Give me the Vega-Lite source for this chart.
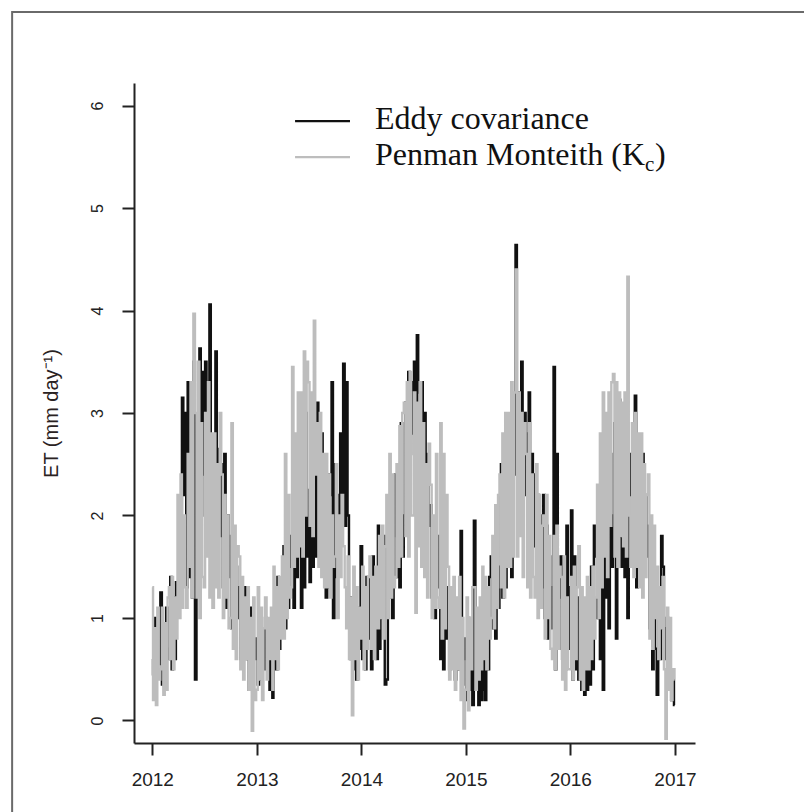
{
  "$schema": "https://vega.github.io/schema/vega-lite/v6.json",
  "width": 561,
  "height": 660,
  "autosize": {"type": "none"},
  "padding": {"left": 134, "top": 83, "right": 109, "bottom": 69},
  "background": "white",
  "config": {
    "view": {"stroke": null},
    "axis": {
      "grid": false,
      "domainColor": "#222222",
      "domainWidth": 2,
      "tickColor": "#222222",
      "tickWidth": 2,
      "tickSize": 12,
      "labelColor": "#222222",
      "labelFont": "Liberation Sans",
      "titleFont": "Liberation Sans",
      "titleColor": "#2a2222",
      "titleFontWeight": "normal"
    }
  },
  "datasets": {
    "et": [
      {"date":"2012-01-01","ec":0.6,"pm":1.3},{"date":"2012-01-06","ec":0.45,"pm":0.2},{"date":"2012-01-11","ec":1.0,"pm":0.9},{"date":"2012-01-16","ec":0.5,"pm":0.15},{"date":"2012-01-21","ec":0.9,"pm":1.1},{"date":"2012-01-26","ec":0.55,"pm":0.4},
      {"date":"2012-02-01","ec":1.25,"pm":0.5},{"date":"2012-02-06","ec":0.35,"pm":1.1},{"date":"2012-02-11","ec":0.8,"pm":0.25},{"date":"2012-02-16","ec":0.3,"pm":0.95},{"date":"2012-02-21","ec":1.1,"pm":0.3},{"date":"2012-02-26","ec":0.6,"pm":1.2},
      {"date":"2012-03-01","ec":0.7,"pm":1.3},{"date":"2012-03-06","ec":1.4,"pm":0.6},{"date":"2012-03-11","ec":0.5,"pm":1.4},{"date":"2012-03-16","ec":1.2,"pm":0.5},{"date":"2012-03-21","ec":0.6,"pm":1.2},{"date":"2012-03-26","ec":1.35,"pm":0.8},
      {"date":"2012-04-01","ec":1.1,"pm":2.2},{"date":"2012-04-06","ec":1.6,"pm":1.0},{"date":"2012-04-11","ec":2.0,"pm":2.4},{"date":"2012-04-16","ec":3.15,"pm":1.1},{"date":"2012-04-21","ec":2.2,"pm":2.0},{"date":"2012-04-26","ec":3.0,"pm":1.3},
      {"date":"2012-05-01","ec":1.3,"pm":1.1},{"date":"2012-05-06","ec":3.3,"pm":2.6},{"date":"2012-05-11","ec":1.4,"pm":1.5},{"date":"2012-05-16","ec":2.9,"pm":3.3},{"date":"2012-05-21","ec":1.2,"pm":1.2},{"date":"2012-05-26","ec":3.5,"pm":3.97},
      {"date":"2012-06-01","ec":0.4,"pm":3.0},{"date":"2012-06-06","ec":2.0,"pm":1.2},{"date":"2012-06-11","ec":1.6,"pm":3.5},{"date":"2012-06-16","ec":3.63,"pm":1.0},{"date":"2012-06-21","ec":2.0,"pm":2.9},{"date":"2012-06-26","ec":3.4,"pm":1.4},
      {"date":"2012-07-01","ec":2.4,"pm":1.3},{"date":"2012-07-06","ec":3.5,"pm":3.0},{"date":"2012-07-11","ec":1.8,"pm":1.6},{"date":"2012-07-16","ec":3.2,"pm":3.3},{"date":"2012-07-21","ec":4.06,"pm":1.2},{"date":"2012-07-26","ec":2.2,"pm":2.8},
      {"date":"2012-08-01","ec":2.7,"pm":1.1},{"date":"2012-08-06","ec":1.9,"pm":2.8},{"date":"2012-08-11","ec":3.6,"pm":1.3},{"date":"2012-08-16","ec":2.0,"pm":2.5},{"date":"2012-08-21","ec":2.65,"pm":1.2},{"date":"2012-08-26","ec":1.8,"pm":3.0},
      {"date":"2012-09-01","ec":2.5,"pm":2.4},{"date":"2012-09-06","ec":1.3,"pm":1.0},{"date":"2012-09-11","ec":2.6,"pm":2.2},{"date":"2012-09-16","ec":1.1,"pm":1.2},{"date":"2012-09-21","ec":2.0,"pm":2.0},{"date":"2012-09-26","ec":1.4,"pm":0.9},
      {"date":"2012-10-01","ec":1.8,"pm":1.0},{"date":"2012-10-06","ec":0.9,"pm":2.9},{"date":"2012-10-11","ec":1.6,"pm":0.7},{"date":"2012-10-16","ec":0.7,"pm":1.9},{"date":"2012-10-21","ec":1.5,"pm":0.6},{"date":"2012-10-26","ec":1.0,"pm":1.7},
      {"date":"2012-11-01","ec":1.3,"pm":1.6},{"date":"2012-11-06","ec":0.6,"pm":0.5},{"date":"2012-11-11","ec":1.2,"pm":1.4},{"date":"2012-11-16","ec":0.8,"pm":0.4},{"date":"2012-11-21","ec":1.3,"pm":1.2},{"date":"2012-11-26","ec":0.6,"pm":0.6},
      {"date":"2012-12-01","ec":0.9,"pm":1.3},{"date":"2012-12-06","ec":0.3,"pm":0.3},{"date":"2012-12-11","ec":1.1,"pm":1.0},{"date":"2012-12-16","ec":0.5,"pm":-0.1},{"date":"2012-12-21","ec":0.8,"pm":1.2},{"date":"2012-12-26","ec":0.6,"pm":0.2},
      {"date":"2013-01-01","ec":0.8,"pm":0.3},{"date":"2013-01-06","ec":0.35,"pm":1.3},{"date":"2013-01-11","ec":1.0,"pm":0.4},{"date":"2013-01-16","ec":0.4,"pm":1.1},{"date":"2013-01-21","ec":0.9,"pm":0.2},{"date":"2013-01-26","ec":0.5,"pm":0.9},
      {"date":"2013-02-01","ec":1.0,"pm":1.2},{"date":"2013-02-06","ec":0.5,"pm":0.4},{"date":"2013-02-11","ec":0.8,"pm":1.0},{"date":"2013-02-16","ec":0.3,"pm":0.6},{"date":"2013-02-21","ec":0.9,"pm":1.1},{"date":"2013-02-26","ec":0.22,"pm":0.3},
      {"date":"2013-03-01","ec":0.6,"pm":1.5},{"date":"2013-03-06","ec":1.2,"pm":0.6},{"date":"2013-03-11","ec":0.5,"pm":1.3},{"date":"2013-03-16","ec":1.4,"pm":0.5},{"date":"2013-03-21","ec":0.7,"pm":1.4},{"date":"2013-03-26","ec":1.2,"pm":0.8},
      {"date":"2013-04-01","ec":1.0,"pm":1.6},{"date":"2013-04-06","ec":1.7,"pm":0.8},{"date":"2013-04-11","ec":0.9,"pm":2.6},{"date":"2013-04-16","ec":1.5,"pm":1.0},{"date":"2013-04-21","ec":1.1,"pm":2.2},{"date":"2013-04-26","ec":1.8,"pm":1.2},
      {"date":"2013-05-01","ec":1.5,"pm":1.3},{"date":"2013-05-06","ec":2.2,"pm":3.45},{"date":"2013-05-11","ec":1.1,"pm":1.5},{"date":"2013-05-16","ec":2.0,"pm":2.8},{"date":"2013-05-21","ec":1.4,"pm":1.6},{"date":"2013-05-26","ec":1.9,"pm":3.2},
      {"date":"2013-06-01","ec":2.1,"pm":1.7},{"date":"2013-06-06","ec":1.1,"pm":3.2},{"date":"2013-06-11","ec":2.5,"pm":1.6},{"date":"2013-06-16","ec":1.3,"pm":3.6},{"date":"2013-06-21","ec":3.0,"pm":2.0},{"date":"2013-06-26","ec":1.6,"pm":3.5},
      {"date":"2013-07-01","ec":2.25,"pm":3.3},{"date":"2013-07-06","ec":1.35,"pm":1.9},{"date":"2013-07-11","ec":2.0,"pm":3.2},{"date":"2013-07-16","ec":1.5,"pm":1.8},{"date":"2013-07-21","ec":2.5,"pm":3.9},{"date":"2013-07-26","ec":1.6,"pm":2.4},
      {"date":"2013-08-01","ec":3.1,"pm":2.9},{"date":"2013-08-06","ec":2.5,"pm":1.5},{"date":"2013-08-11","ec":1.6,"pm":3.0},{"date":"2013-08-16","ec":2.8,"pm":1.4},{"date":"2013-08-21","ec":2.1,"pm":2.6},{"date":"2013-08-26","ec":2.4,"pm":1.3},
      {"date":"2013-09-01","ec":1.2,"pm":2.6},{"date":"2013-09-06","ec":2.4,"pm":1.3},{"date":"2013-09-11","ec":1.3,"pm":2.4},{"date":"2013-09-16","ec":2.2,"pm":1.2},{"date":"2013-09-21","ec":3.3,"pm":2.0},{"date":"2013-09-26","ec":1.0,"pm":1.5},
      {"date":"2013-10-01","ec":2.5,"pm":1.6},{"date":"2013-10-06","ec":1.4,"pm":2.5},{"date":"2013-10-11","ec":2.2,"pm":1.0},{"date":"2013-10-16","ec":1.9,"pm":2.0},{"date":"2013-10-21","ec":2.8,"pm":1.4},{"date":"2013-10-26","ec":2.0,"pm":2.2},
      {"date":"2013-11-01","ec":3.48,"pm":1.7},{"date":"2013-11-06","ec":1.9,"pm":1.3},{"date":"2013-11-11","ec":3.3,"pm":0.9},{"date":"2013-11-16","ec":2.0,"pm":1.6},{"date":"2013-11-21","ec":1.2,"pm":0.6},{"date":"2013-11-26","ec":0.6,"pm":1.2},
      {"date":"2013-12-01","ec":1.2,"pm":0.05},{"date":"2013-12-06","ec":0.5,"pm":1.5},{"date":"2013-12-11","ec":1.0,"pm":0.6},{"date":"2013-12-16","ec":0.4,"pm":1.3},{"date":"2013-12-21","ec":1.1,"pm":0.4},{"date":"2013-12-26","ec":0.7,"pm":1.1},
      {"date":"2014-01-01","ec":1.7,"pm":0.8},{"date":"2014-01-06","ec":0.6,"pm":1.5},{"date":"2014-01-11","ec":1.2,"pm":0.5},{"date":"2014-01-16","ec":0.5,"pm":1.3},{"date":"2014-01-21","ec":1.4,"pm":0.7},{"date":"2014-01-26","ec":0.8,"pm":1.4},
      {"date":"2014-02-01","ec":1.4,"pm":1.6},{"date":"2014-02-06","ec":0.5,"pm":0.7},{"date":"2014-02-11","ec":1.6,"pm":1.4},{"date":"2014-02-16","ec":0.7,"pm":0.6},{"date":"2014-02-21","ec":1.2,"pm":1.5},{"date":"2014-02-26","ec":0.6,"pm":0.9},
      {"date":"2014-03-01","ec":1.9,"pm":0.9},{"date":"2014-03-06","ec":0.7,"pm":1.8},{"date":"2014-03-11","ec":1.5,"pm":1.0},{"date":"2014-03-16","ec":1.0,"pm":1.9},{"date":"2014-03-21","ec":1.8,"pm":0.8},{"date":"2014-03-26","ec":0.35,"pm":1.7},
      {"date":"2014-04-01","ec":0.4,"pm":2.2},{"date":"2014-04-06","ec":1.9,"pm":1.0},{"date":"2014-04-11","ec":1.2,"pm":2.6},{"date":"2014-04-16","ec":2.2,"pm":1.2},{"date":"2014-04-21","ec":1.0,"pm":2.4},{"date":"2014-04-26","ec":1.8,"pm":1.3},
      {"date":"2014-05-01","ec":2.4,"pm":1.4},{"date":"2014-05-06","ec":1.4,"pm":2.5},{"date":"2014-05-11","ec":2.2,"pm":1.5},{"date":"2014-05-16","ec":1.3,"pm":2.87},{"date":"2014-05-21","ec":2.9,"pm":1.6},{"date":"2014-05-26","ec":1.6,"pm":3.0},
      {"date":"2014-06-01","ec":2.0,"pm":3.1},{"date":"2014-06-06","ec":3.1,"pm":1.8},{"date":"2014-06-11","ec":2.2,"pm":3.3},{"date":"2014-06-16","ec":3.4,"pm":1.6},{"date":"2014-06-21","ec":2.6,"pm":3.4},{"date":"2014-06-26","ec":3.3,"pm":2.0},
      {"date":"2014-07-01","ec":2.8,"pm":2.0},{"date":"2014-07-06","ec":3.5,"pm":3.2},{"date":"2014-07-11","ec":2.9,"pm":1.05},{"date":"2014-07-16","ec":3.76,"pm":3.1},{"date":"2014-07-21","ec":3.2,"pm":1.7},{"date":"2014-07-26","ec":2.6,"pm":3.3},
      {"date":"2014-08-01","ec":3.3,"pm":1.5},{"date":"2014-08-06","ec":2.2,"pm":2.9},{"date":"2014-08-11","ec":3.0,"pm":1.4},{"date":"2014-08-16","ec":1.8,"pm":2.5},{"date":"2014-08-21","ec":2.6,"pm":1.2},{"date":"2014-08-26","ec":1.9,"pm":2.7},
      {"date":"2014-09-01","ec":2.1,"pm":2.3},{"date":"2014-09-06","ec":1.2,"pm":1.0},{"date":"2014-09-11","ec":1.9,"pm":2.0},{"date":"2014-09-16","ec":1.0,"pm":1.1},{"date":"2014-09-21","ec":1.6,"pm":2.6},{"date":"2014-09-26","ec":1.3,"pm":1.2},
      {"date":"2014-10-01","ec":1.8,"pm":1.1},{"date":"2014-10-06","ec":0.6,"pm":2.9},{"date":"2014-10-11","ec":1.4,"pm":0.8},{"date":"2014-10-16","ec":0.5,"pm":2.6},{"date":"2014-10-21","ec":1.2,"pm":0.9},{"date":"2014-10-26","ec":0.8,"pm":2.2},
      {"date":"2014-11-01","ec":1.3,"pm":1.5},{"date":"2014-11-06","ec":0.5,"pm":0.4},{"date":"2014-11-11","ec":1.1,"pm":1.3},{"date":"2014-11-16","ec":0.6,"pm":0.5},{"date":"2014-11-21","ec":1.0,"pm":1.4},{"date":"2014-11-26","ec":0.4,"pm":0.3},
      {"date":"2014-12-01","ec":0.9,"pm":1.2},{"date":"2014-12-06","ec":0.5,"pm":0.5},{"date":"2014-12-11","ec":1.2,"pm":1.4},{"date":"2014-12-16","ec":1.85,"pm":0.2},{"date":"2014-12-21","ec":0.35,"pm":1.0},{"date":"2014-12-26","ec":0.8,"pm":-0.08},
      {"date":"2015-01-01","ec":0.6,"pm":0.3},{"date":"2015-01-06","ec":0.2,"pm":1.2},{"date":"2015-01-11","ec":1.0,"pm":0.1},{"date":"2015-01-16","ec":0.3,"pm":1.0},{"date":"2015-01-21","ec":0.9,"pm":0.5},{"date":"2015-01-26","ec":0.15,"pm":1.3},
      {"date":"2015-02-01","ec":1.95,"pm":1.3},{"date":"2015-02-06","ec":0.4,"pm":0.3},{"date":"2015-02-11","ec":1.0,"pm":1.1},{"date":"2015-02-16","ec":0.15,"pm":0.4},{"date":"2015-02-21","ec":0.6,"pm":1.2},{"date":"2015-02-26","ec":0.2,"pm":0.5},
      {"date":"2015-03-01","ec":0.3,"pm":1.5},{"date":"2015-03-06","ec":1.2,"pm":0.6},{"date":"2015-03-11","ec":0.2,"pm":1.4},{"date":"2015-03-16","ec":1.0,"pm":0.5},{"date":"2015-03-21","ec":0.5,"pm":1.3},{"date":"2015-03-26","ec":1.4,"pm":0.8},
      {"date":"2015-04-01","ec":1.6,"pm":1.0},{"date":"2015-04-06","ec":0.9,"pm":1.8},{"date":"2015-04-11","ec":1.5,"pm":0.9},{"date":"2015-04-16","ec":0.8,"pm":2.1},{"date":"2015-04-21","ec":1.2,"pm":1.1},{"date":"2015-04-26","ec":1.1,"pm":2.2},
      {"date":"2015-05-01","ec":1.5,"pm":2.4},{"date":"2015-05-06","ec":2.5,"pm":1.3},{"date":"2015-05-11","ec":1.2,"pm":2.8},{"date":"2015-05-16","ec":2.0,"pm":1.2},{"date":"2015-05-21","ec":1.3,"pm":3.0},{"date":"2015-05-26","ec":2.6,"pm":1.5},
      {"date":"2015-06-01","ec":1.8,"pm":3.0},{"date":"2015-06-06","ec":2.9,"pm":1.5},{"date":"2015-06-11","ec":1.4,"pm":3.3},{"date":"2015-06-16","ec":3.1,"pm":1.6},{"date":"2015-06-21","ec":2.4,"pm":3.2},{"date":"2015-06-26","ec":4.64,"pm":4.4},
      {"date":"2015-07-01","ec":2.6,"pm":1.6},{"date":"2015-07-06","ec":3.2,"pm":3.2},{"date":"2015-07-11","ec":2.0,"pm":1.8},{"date":"2015-07-16","ec":3.5,"pm":3.0},{"date":"2015-07-21","ec":2.4,"pm":1.4},{"date":"2015-07-26","ec":3.0,"pm":2.9},
      {"date":"2015-08-01","ec":2.2,"pm":2.6},{"date":"2015-08-06","ec":2.8,"pm":1.3},{"date":"2015-08-11","ec":3.2,"pm":2.9},{"date":"2015-08-16","ec":1.9,"pm":1.2},{"date":"2015-08-21","ec":2.6,"pm":2.4},{"date":"2015-08-26","ec":1.7,"pm":1.4},
      {"date":"2015-09-01","ec":2.4,"pm":1.2},{"date":"2015-09-06","ec":1.4,"pm":2.5},{"date":"2015-09-11","ec":2.2,"pm":1.0},{"date":"2015-09-16","ec":1.5,"pm":2.2},{"date":"2015-09-21","ec":2.0,"pm":1.1},{"date":"2015-09-26","ec":1.3,"pm":1.9},
      {"date":"2015-10-01","ec":2.2,"pm":2.0},{"date":"2015-10-06","ec":1.0,"pm":0.8},{"date":"2015-10-11","ec":1.9,"pm":2.2},{"date":"2015-10-16","ec":0.8,"pm":1.0},{"date":"2015-10-21","ec":1.6,"pm":1.8},{"date":"2015-10-26","ec":0.9,"pm":0.7},
      {"date":"2015-11-01","ec":1.3,"pm":0.6},{"date":"2015-11-06","ec":3.45,"pm":1.8},{"date":"2015-11-11","ec":0.5,"pm":0.5},{"date":"2015-11-16","ec":2.6,"pm":1.9},{"date":"2015-11-21","ec":0.7,"pm":0.7},{"date":"2015-11-26","ec":1.2,"pm":1.5},
      {"date":"2015-12-01","ec":1.6,"pm":1.4},{"date":"2015-12-06","ec":0.6,"pm":0.4},{"date":"2015-12-11","ec":1.2,"pm":1.6},{"date":"2015-12-16","ec":0.5,"pm":0.3},{"date":"2015-12-21","ec":1.9,"pm":1.2},{"date":"2015-12-26","ec":0.7,"pm":0.5},
      {"date":"2016-01-01","ec":1.3,"pm":0.5},{"date":"2016-01-06","ec":2.05,"pm":1.4},{"date":"2016-01-11","ec":0.4,"pm":0.4},{"date":"2016-01-16","ec":1.6,"pm":1.5},{"date":"2016-01-21","ec":0.5,"pm":0.6},{"date":"2016-01-26","ec":1.2,"pm":1.3},
      {"date":"2016-02-01","ec":0.4,"pm":1.7},{"date":"2016-02-06","ec":1.1,"pm":0.4},{"date":"2016-02-11","ec":0.3,"pm":1.3},{"date":"2016-02-16","ec":0.9,"pm":0.3},{"date":"2016-02-21","ec":0.25,"pm":1.2},{"date":"2016-02-26","ec":1.0,"pm":0.5},
      {"date":"2016-03-01","ec":0.3,"pm":1.4},{"date":"2016-03-06","ec":1.2,"pm":0.5},{"date":"2016-03-11","ec":0.35,"pm":1.3},{"date":"2016-03-16","ec":1.5,"pm":0.6},{"date":"2016-03-21","ec":0.5,"pm":1.5},{"date":"2016-03-26","ec":1.9,"pm":0.8},
      {"date":"2016-04-01","ec":1.6,"pm":1.2},{"date":"2016-04-06","ec":1.0,"pm":2.3},{"date":"2016-04-11","ec":2.0,"pm":1.0},{"date":"2016-04-16","ec":0.6,"pm":2.8},{"date":"2016-04-21","ec":1.8,"pm":1.3},{"date":"2016-04-26","ec":0.3,"pm":3.2},
      {"date":"2016-05-01","ec":2.4,"pm":1.6},{"date":"2016-05-06","ec":1.2,"pm":3.0},{"date":"2016-05-11","ec":2.1,"pm":1.4},{"date":"2016-05-16","ec":0.9,"pm":3.2},{"date":"2016-05-21","ec":2.6,"pm":1.9},{"date":"2016-05-26","ec":1.5,"pm":3.3},
      {"date":"2016-06-01","ec":2.0,"pm":3.38},{"date":"2016-06-06","ec":2.9,"pm":1.6},{"date":"2016-06-11","ec":0.8,"pm":3.3},{"date":"2016-06-16","ec":2.5,"pm":1.5},{"date":"2016-06-21","ec":3.13,"pm":3.2},{"date":"2016-06-26","ec":1.8,"pm":1.8},
      {"date":"2016-07-01","ec":1.5,"pm":3.1},{"date":"2016-07-06","ec":2.7,"pm":1.7},{"date":"2016-07-11","ec":1.4,"pm":3.2},{"date":"2016-07-16","ec":2.4,"pm":1.6},{"date":"2016-07-21","ec":1.0,"pm":4.33},{"date":"2016-07-26","ec":2.2,"pm":2.0},
      {"date":"2016-08-01","ec":2.6,"pm":1.5},{"date":"2016-08-06","ec":1.6,"pm":2.9},{"date":"2016-08-11","ec":2.8,"pm":1.4},{"date":"2016-08-16","ec":3.17,"pm":3.0},{"date":"2016-08-21","ec":1.3,"pm":1.5},{"date":"2016-08-26","ec":2.65,"pm":2.8},
      {"date":"2016-09-01","ec":2.5,"pm":1.3},{"date":"2016-09-06","ec":2.0,"pm":2.8},{"date":"2016-09-11","ec":2.6,"pm":1.2},{"date":"2016-09-16","ec":1.5,"pm":2.5},{"date":"2016-09-21","ec":2.2,"pm":1.4},{"date":"2016-09-26","ec":1.6,"pm":2.2},
      {"date":"2016-10-01","ec":1.9,"pm":2.4},{"date":"2016-10-06","ec":0.9,"pm":0.8},{"date":"2016-10-11","ec":1.5,"pm":2.0},{"date":"2016-10-16","ec":0.5,"pm":0.7},{"date":"2016-10-21","ec":1.3,"pm":1.9},{"date":"2016-10-26","ec":0.7,"pm":1.0},
      {"date":"2016-11-01","ec":0.25,"pm":1.5},{"date":"2016-11-06","ec":1.1,"pm":0.6},{"date":"2016-11-11","ec":0.6,"pm":1.3},{"date":"2016-11-16","ec":1.8,"pm":0.9},{"date":"2016-11-21","ec":1.5,"pm":1.4},{"date":"2016-11-26","ec":0.9,"pm":0.5},
      {"date":"2016-12-01","ec":0.6,"pm":-0.18},{"date":"2016-12-06","ec":1.0,"pm":1.1},{"date":"2016-12-11","ec":0.4,"pm":0.3},{"date":"2016-12-16","ec":0.5,"pm":1.0},{"date":"2016-12-21","ec":0.2,"pm":0.2},{"date":"2016-12-26","ec":0.5,"pm":0.5},
      {"date":"2016-12-31","ec":0.15,"pm":0.4}
    ]
  },
  "layer": [
    {
      "data": {"values": [{}]},
      "mark": {"type": "rect", "filled": false, "stroke": "#6a6a6a", "strokeWidth": 2},
      "encoding": {
        "x": {"datum": {"year": 2010, "month": 8, "date": 29, "utc": true}, "type": "temporal"},
        "x2": {"datum": {"year": 2020, "month": 1, "date": 1, "utc": true}},
        "y": {"datum": 6.913, "type": "quantitative"},
        "y2": {"datum": -3}
      }
    },
    {
      "data": {"name": "et"},
      "transform": [{"fold": ["ec", "pm"], "as": ["series", "value"]}],
      "mark": {"type": "line", "strokeWidth": 2.4, "interpolate": "step"},
      "encoding": {
        "x": {
          "field": "date",
          "type": "temporal",
          "scale": {
            "type": "utc",
            "nice": false,
            "domain": [
              {"year": 2011, "month": 10, "date": 29, "utc": true},
              {"year": 2017, "month": 3, "date": 12, "utc": true}
            ]
          },
          "axis": {
            "title": null,
            "values": [
              {"year": 2012, "utc": true},
              {"year": 2013, "utc": true},
              {"year": 2014, "utc": true},
              {"year": 2015, "utc": true},
              {"year": 2016, "utc": true},
              {"year": 2017, "utc": true}
            ],
            "format": "%Y",
            "labelFontSize": 19,
            "labelPadding": 15,
            "labelFlush": false,
            "labelOverlap": false
          }
        },
        "y": {
          "field": "value",
          "type": "quantitative",
          "scale": {"domain": [-0.22, 6.22], "nice": false, "zero": false},
          "axis": {
            "title": "ET (mm day⁻¹)",
            "values": [0, 1, 2, 3, 4, 5, 6],
            "format": "d",
            "labelAngle": 270,
            "labelAlign": "center",
            "labelBaseline": "alphabetic",
            "labelPadding": 20,
            "labelFontSize": 16,
            "titleFontSize": 20,
            "titlePadding": 28
          }
        },
        "color": {
          "field": "series",
          "type": "nominal",
          "scale": {"domain": ["ec", "pm"], "range": ["#111111", "#bdbdbd"]},
          "legend": null
        }
      }
    },
    {
      "data": {"values": [{}]},
      "mark": {"type": "rule", "color": "#111111", "strokeWidth": 2.4},
      "encoding": {
        "x": {"datum": {"year": 2013, "month": 5, "date": 14, "utc": true}, "type": "temporal"},
        "x2": {"datum": {"year": 2013, "month": 11, "date": 22, "utc": true}},
        "y": {"datum": 5.848, "type": "quantitative"}
      }
    },
    {
      "data": {"values": [{}]},
      "mark": {"type": "rule", "color": "#bdbdbd", "strokeWidth": 2.4},
      "encoding": {
        "x": {"datum": {"year": 2013, "month": 5, "date": 14, "utc": true}, "type": "temporal"},
        "x2": {"datum": {"year": 2013, "month": 11, "date": 22, "utc": true}},
        "y": {"datum": 5.497, "type": "quantitative"}
      }
    },
    {
      "data": {"values": [{}]},
      "mark": {"type": "text", "align": "left", "baseline": "alphabetic", "font": "Liberation Serif", "fontSize": 32, "color": "#111111"},
      "encoding": {
        "x": {"datum": {"year": 2014, "month": 2, "date": 17, "utc": true}, "type": "temporal"},
        "y": {"datum": 5.77, "type": "quantitative"},
        "text": {"value": "Eddy covariance"}
      }
    },
    {
      "data": {"values": [{}]},
      "mark": {"type": "text", "align": "left", "baseline": "alphabetic", "font": "Liberation Serif", "fontSize": 32, "color": "#111111"},
      "encoding": {
        "x": {"datum": {"year": 2014, "month": 2, "date": 17, "utc": true}, "type": "temporal"},
        "y": {"datum": 5.42, "type": "quantitative"},
        "text": {"value": "Penman Monteith (K"}
      }
    },
    {
      "data": {"values": [{}]},
      "mark": {"type": "text", "align": "left", "baseline": "alphabetic", "font": "Liberation Serif", "fontSize": 21, "color": "#111111", "dx": 270, "dy": 6},
      "encoding": {
        "x": {"datum": {"year": 2014, "month": 2, "date": 17, "utc": true}, "type": "temporal"},
        "y": {"datum": 5.42, "type": "quantitative"},
        "text": {"value": "c"}
      }
    },
    {
      "data": {"values": [{}]},
      "mark": {"type": "text", "align": "left", "baseline": "alphabetic", "font": "Liberation Serif", "fontSize": 32, "color": "#111111", "dx": 280},
      "encoding": {
        "x": {"datum": {"year": 2014, "month": 2, "date": 17, "utc": true}, "type": "temporal"},
        "y": {"datum": 5.42, "type": "quantitative"},
        "text": {"value": ")"}
      }
    }
  ]
}
